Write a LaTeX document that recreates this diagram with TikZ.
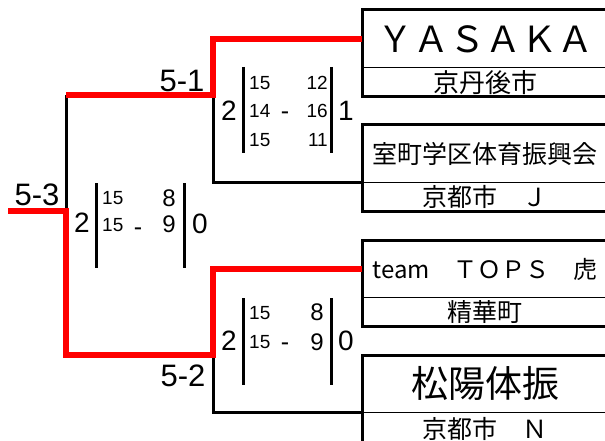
\documentclass[tikz,border=0pt]{standalone}
\usepackage{fontspec}
\setmainfont{Liberation Sans}
\newfontfamily\jp{Noto Sans CJK JP}
\usetikzlibrary{positioning}
\tikzset{
  win/.style={red,line width=6pt},
  lose/.style={black,line width=3pt},
  bar/.style={black,line width=3pt},
  frame/.style={black,line width=3pt},
  divider/.style={black,line width=1pt},
  namebox/.style={minimum width=246pt,minimum height=57.5pt,anchor=north west},
  citybox/.style={minimum width=246pt,minimum height=28pt,font=\jp\fontsize{25}{25}\selectfont},
  big/.style={font=\fontsize{28}{28}\selectfont},
  mid/.style={font=\fontsize{24}{24}\selectfont},
  small/.style={font=\fontsize{19}{19}\selectfont},
  minus/.style={font=\fontsize{25}{25}\selectfont,anchor=base},
  lbl/.style={font=\fontsize{31}{31}\selectfont}
}
\begin{document}
\begin{tikzpicture}[x=1pt,y=-1pt,every node/.style={inner sep=0pt}]
  \useasboundingbox (0,0) rectangle (605,441);
  \clip (0,0) rectangle (605,441);

  \node[namebox,font=\jp\fontsize{36}{36}\selectfont] at (362,10) (yasaka) {ＹＡＳＡＫＡ};
  \node[citybox,below=0pt of yasaka,font=\jp\fontsize{26}{26}\selectfont] (yasakac) {京丹後市};

  \node[namebox,font=\jp\fontsize{25}{25}\selectfont] at (362,125) (muro) {室町学区体育振興会};
  \node[citybox,below=0pt of muro] (muroc) {京都市　Ｊ};

  \node[namebox,font=\jp\fontsize{24}{24}\selectfont] at (362,240) (tops) {team　ＴＯＰＳ　虎};
  \node[citybox,below=0pt of tops] (topsc) {精華町};

  \node[namebox,font=\jp\fontsize{37}{37}\selectfont] at (362,355) (shoyo) {松陽体振};
  \node[citybox,below=0pt of shoyo,minimum height=31pt] (shoyoc) {京都市　Ｎ};

  \foreach \t in {yasaka,muro,tops,shoyo} {
    \draw[frame] (\t.north west) rectangle (\t c.south east);
    \draw[divider] (\t.south west) -- (\t.south east);
  }

  \coordinate (j51) at (213,95);
  \coordinate (j52) at (213,355);
  \coordinate (j53) at (66,211);
  \coordinate (champ) at (8,211);

  \draw[lose] (j51 -| j53) -- (j53);
  \draw[lose] (j51) |- (muro.south west);
  \draw[lose] (j52) |- (shoyo.south west);
  \draw[win] (yasaka.west) -| (j51) -- (j51 -| j53);
  \draw[win] (tops.west) -| (j52) -| (j53) -- (champ);

  \node[lbl] at (182,81) (l51) {5-1};
  \node[lbl] at (183,376) (l52) {5-2};
  \node[lbl] at (37,195) (l53) {5-3};

  \node[big] at (229,111) (s51a) {2};
  \draw[bar] (243,67) -- (243,153);
  \node[small,anchor=west] at (249,83) (s51a1) {15};
  \node[small,anchor=west] at (249,111) (s51a2) {14};
  \node[small,anchor=west] at (249,140) (s51a3) {15};
  \node[minus] at (285,120) (s51d) {-};
  \node[small,anchor=east] at (328,83) (s51b1) {12};
  \node[small,anchor=east] at (328,111) (s51b2) {16};
  \node[small,anchor=east] at (328,140) (s51b3) {11};
  \draw[bar] (331,67) -- (331,153);
  \node[big] at (346,111) (s51b) {1};

  \node[big] at (229,341) (s52a) {2};
  \draw[bar] (243,298) -- (243,385);
  \node[small,anchor=west] at (249,313) (s52a1) {15};
  \node[small,anchor=west] at (249,342) (s52a2) {15};
  \node[minus] at (285,350) (s52d) {-};
  \node[mid,anchor=east] at (324,312) (s52b1) {8};
  \node[mid,anchor=east] at (324,342) (s52b2) {9};
  \draw[bar] (331,298) -- (331,385);
  \node[big] at (346,341) (s52b) {0};

  \node[big] at (82,223) (s53a) {2};
  \draw[bar] (96.5,183) -- (96.5,268);
  \node[small,anchor=west] at (102,198) (s53a1) {15};
  \node[small,anchor=west] at (102,225) (s53a2) {15};
  \node[minus] at (138,235) (s53d) {-};
  \node[mid,anchor=east] at (176,198) (s53b1) {8};
  \node[mid,anchor=east] at (176,224) (s53b2) {9};
  \draw[bar] (184,183) -- (184,268);
  \node[big] at (200,224) (s53b) {0};
\end{tikzpicture}
\end{document}
